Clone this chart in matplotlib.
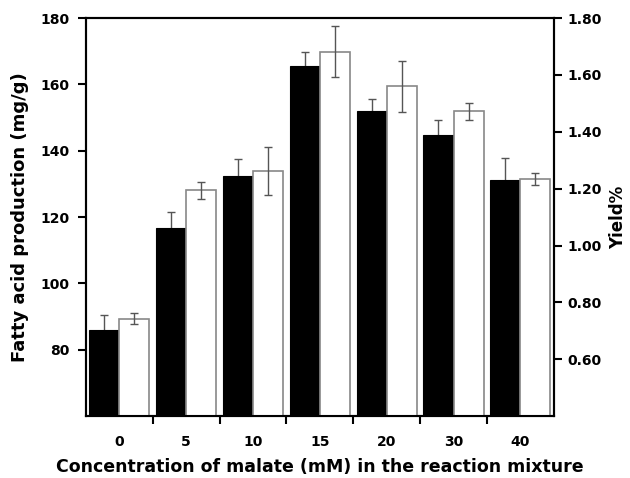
import matplotlib
matplotlib.use("Agg")
import matplotlib.pyplot as plt
import numpy as np

categories = ["0", "5", "10", "15", "20", "30", "40"]
fatty_acid = [86.0, 116.6, 132.4, 165.5, 152.1, 144.8, 131.1]
fatty_acid_err = [4.4, 5.0, 5.2, 4.3, 3.4, 4.4, 6.7]
yield_pct = [0.743, 1.194, 1.262, 1.682, 1.561, 1.473, 1.234]
yield_err = [0.02, 0.03, 0.083, 0.09, 0.09, 0.03, 0.02]

plt.rcParams['font.family'] = ['DejaVu Sans']
plt.rcParams['font.weight'] = 'bold'

fig = plt.figure(figsize=(6.3, 4.78), dpi=100)
ax = fig.add_axes([0.1365, 0.1297, 0.879 - 0.1365, 0.962 - 0.1297])
ax2 = ax.twinx()

x = np.arange(len(categories))
w = 0.45
errc = "#555555"

ax.errorbar(x - w / 2, fatty_acid, yerr=fatty_acid_err, fmt='none', ecolor=errc,
            elinewidth=1, capsize=3, capthick=1, zorder=1)
ax.bar(x - w / 2, fatty_acid, width=w, color='black', edgecolor='black', linewidth=0.8, zorder=2)

ax2.bar(x + w / 2, yield_pct, width=w, color='white', edgecolor='#888888', linewidth=1.2, zorder=2)
ax2.errorbar(x + w / 2, yield_pct, yerr=yield_err, fmt='none', ecolor=errc,
             elinewidth=1, capsize=3, capthick=1, zorder=3)

ax.set_xlim(-0.5, 6.5)
ax.set_ylim(60, 180)
ax2.set_ylim(0.40, 1.80)

ax.set_yticks([80, 100, 120, 140, 160, 180])
ax2.set_yticks([0.6, 0.8, 1.0, 1.2, 1.4, 1.6, 1.8])
ax2.set_yticklabels([f"{v:.2f}" for v in [0.6, 0.8, 1.0, 1.2, 1.4, 1.6, 1.8]])

ax.set_xticks(x)
ax.set_xticklabels(categories)
ax.tick_params(axis='x', which='major', length=0, pad=14)
ax.set_xticks(np.arange(0.5, 6, 1), minor=True)
ax.tick_params(axis='x', which='minor', length=6, width=1.5, direction='out')
ax.tick_params(axis='y', length=6, width=1.5, direction='out', pad=6)
ax2.tick_params(axis='y', length=6, width=1.5, direction='out', pad=4)

for a in (ax, ax2):
    for s in a.spines.values():
        s.set_linewidth(1.5)
    for lab in a.get_xticklabels() + a.get_yticklabels():
        lab.set_fontsize(10)
        lab.set_fontweight('bold')

ax.set_xlabel("Concentration of malate (mM) in the reaction mixture", fontsize=12.5, fontweight='bold', labelpad=6)
ax.set_ylabel("Fatty acid production (mg/g)", fontsize=13, fontweight='bold', labelpad=8)
ax2.set_ylabel("Yield%", fontsize=12, fontweight='bold', rotation=90, labelpad=5)

fig.savefig("out.png", dpi=100)
